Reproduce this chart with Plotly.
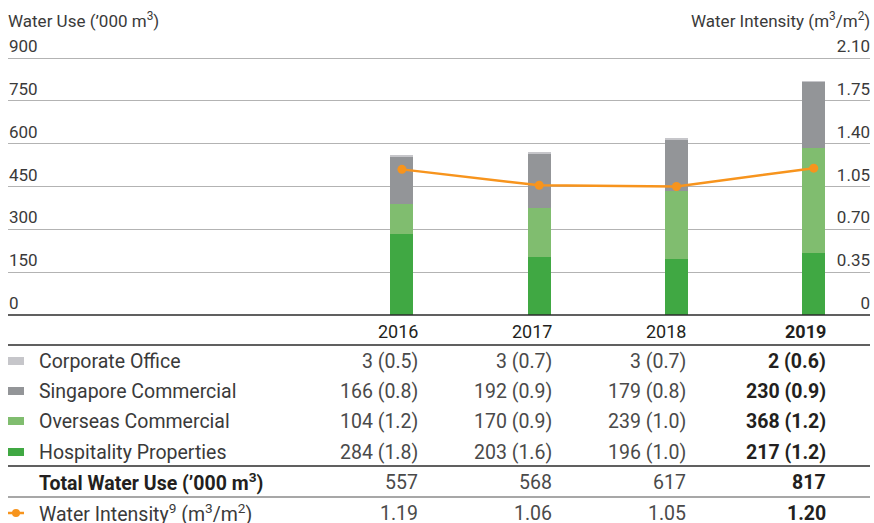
import plotly.graph_objects as go

years = ["2016", "2017", "2018", "2019"]
corporate = [3, 3, 3, 2]
singapore = [166, 192, 179, 230]
overseas = [104, 170, 239, 368]
hospitality = [284, 203, 196, 217]
corporate_int = [0.5, 0.7, 0.7, 0.6]
singapore_int = [0.8, 0.9, 0.8, 0.9]
overseas_int = [1.2, 0.9, 1.0, 1.2]
hospitality_int = [1.8, 1.6, 1.0, 1.2]
totals = [557, 568, 617, 817]
intensity = [1.19, 1.06, 1.05, 1.20]
left_ticks = [0, 150, 300, 450, 600, 750, 900]
right_ticks = [0, 0.35, 0.70, 1.05, 1.40, 1.75, 2.10]

colors = {"Corporate Office": "#c6c6ca", "Singapore Commercial": "#939598",
          "Overseas Commercial": "#80bd6f", "Hospitality Properties": "#40a843"}
orange = "#f7941d"

W, H = 874, 523
FONT = "Roboto"
TXT = "#3a3a3a"
VAL = "#4a4a4a"
DARK = "#231f20"
TFS = 19.5


def px(x):
    return x / W


def py(y):
    return 1 - y / H


fig = go.Figure()
for name, vals in [("Hospitality Properties", hospitality), ("Overseas Commercial", overseas),
                   ("Singapore Commercial", singapore), ("Corporate Office", corporate)]:
    fig.add_trace(go.Bar(x=years, y=vals, name=name, marker=dict(color=colors[name], line=dict(width=0)),
                         width=0.168, showlegend=False))
fig.add_trace(go.Scatter(x=years, y=intensity, yaxis="y2", mode="lines+markers",
                         line=dict(color=orange, width=2.5), marker=dict(color=orange, size=9),
                         showlegend=False))

# axis geometry: 0 at y=315, 900 at y=58; range extended so the top labels fit inside
base_y, top_y = 315, 58
L_MAX, R_MAX = 990, 2.31
ppu = (base_y - top_y) / 900
dom_top = base_y - L_MAX * ppu

x0 = -2.87
x1 = 3.41
fig.update_layout(
    width=W, height=H, margin=dict(l=0, r=0, t=0, b=0), autosize=False,
    paper_bgcolor="white", plot_bgcolor="white", barmode="stack",
    font=dict(family=FONT, size=17, color=TXT),
    xaxis=dict(domain=[px(8), px(870)], range=[x0, x1], type="category",
               showticklabels=False, showgrid=False, zeroline=False, showline=False, ticks=""),
    yaxis=dict(domain=[py(base_y), py(dom_top)], range=[0, L_MAX], tickvals=left_ticks,
               ticktext=[str(v) for v in left_ticks], ticklabelposition="inside top",
               ticklabelstandoff=-2,
               showgrid=True, gridcolor="#b3b3b3", gridwidth=1.2, zeroline=False, showline=False,
               tickfont=dict(size=17, color=TXT)),
    yaxis2=dict(domain=[py(base_y), py(dom_top)], range=[0, R_MAX], overlaying="y", side="right",
                anchor="x", tickvals=right_ticks, ticktext=[f"{v:.2f}" if v else "0" for v in right_ticks],
                ticklabelposition="inside top", ticklabelstandoff=-3,
                showgrid=False, zeroline=False, showline=False,
                tickfont=dict(size=17, color=TXT)),
)

shapes = []
annos = []


def hline(y, color, width=1.5):
    shapes.append(dict(type="line", xref="paper", yref="paper", x0=px(8), x1=px(870),
                       y0=py(y), y1=py(y), line=dict(color=color, width=width)))


hline(315, "#2b2b2b", 1.5)
hline(345, "#2b2b2b", 1.5)
hline(466, "#2b2b2b", 1.5)
hline(497, "#8a8a8a", 1.5)

annos.append(dict(text="Water Use (\u2019000 m<sup>3</sup>)", x=px(6), y=py(20), xref="paper", yref="paper",
                  xanchor="left", yanchor="middle", showarrow=False, font=dict(size=17, color=TXT)))
annos.append(dict(text="Water Intensity (m<sup>3</sup>/m<sup>2</sup>)", x=px(872), y=py(20), xref="paper",
                  yref="paper", xanchor="right", yanchor="middle", showarrow=False,
                  font=dict(size=17, color=TXT)))

col_right = [420, 554, 688, 828]
for i, yr in enumerate(years):
    t = f"<b>{yr}</b>" if i == len(years) - 1 else yr
    annos.append(dict(text=t, x=px(col_right[i]), y=py(331), xref="paper", yref="paper", xanchor="right",
                      yanchor="middle", showarrow=False, font=dict(size=18, color=DARK)))

rows = [("Corporate Office", corporate, corporate_int, 361),
        ("Singapore Commercial", singapore, singapore_int, 391),
        ("Overseas Commercial", overseas, overseas_int, 421),
        ("Hospitality Properties", hospitality, hospitality_int, 452)]
for name, vals, ints, y in rows:
    shapes.append(dict(type="rect", xref="paper", yref="paper", x0=px(8), x1=px(24),
                       y0=py(y + 4), y1=py(y - 4), line=dict(width=0), fillcolor=colors[name]))
    annos.append(dict(text=name, x=px(37), y=py(y), xref="paper", yref="paper", xanchor="left",
                      yanchor="middle", showarrow=False, font=dict(size=TFS, color=TXT)))
    for i in range(len(years)):
        t = f"{vals[i]} ({ints[i]:.1f})"
        if i == len(years) - 1:
            t = f"<b>{t}</b>"
            c = DARK
        else:
            c = VAL
        annos.append(dict(text=t, x=px(col_right[i]), y=py(y), xref="paper", yref="paper", xanchor="right",
                          yanchor="middle", showarrow=False, font=dict(size=TFS, color=c)))

annos.append(dict(text="<b>Total Water Use (\u2019000 m<sup>3</sup>)</b>", x=px(37), y=py(482), xref="paper",
                  yref="paper", xanchor="left", yanchor="middle", showarrow=False,
                  font=dict(size=TFS, color=DARK)))
for i in range(len(years)):
    t = f"<b>{totals[i]}</b>" if i == len(years) - 1 else str(totals[i])
    c = DARK if i == len(years) - 1 else VAL
    annos.append(dict(text=t, x=px(col_right[i]), y=py(482), xref="paper", yref="paper", xanchor="right",
                      yanchor="middle", showarrow=False, font=dict(size=TFS, color=c)))

# orange legend marker: short line with a dot
shapes.append(dict(type="line", xref="paper", yref="paper", x0=px(8), x1=px(24), y0=py(513), y1=py(513),
                   line=dict(color=orange, width=2.5)))
shapes.append(dict(type="circle", xref="paper", yref="paper", x0=px(12), x1=px(20), y0=py(517), y1=py(509),
                   line=dict(width=0), fillcolor=orange))
annos.append(dict(text="Water Intensity<sup>9</sup> (m<sup>3</sup>/m<sup>2</sup>)", x=px(37), y=py(513),
                  xref="paper", yref="paper", xanchor="left", yanchor="middle", showarrow=False,
                  font=dict(size=TFS, color=TXT)))
for i in range(len(years)):
    t = f"{intensity[i]:.2f}"
    if i == len(years) - 1:
        t = f"<b>{t}</b>"
        c = DARK
    else:
        c = VAL
    annos.append(dict(text=t, x=px(col_right[i]), y=py(513), xref="paper", yref="paper", xanchor="right",
                      yanchor="middle", showarrow=False, font=dict(size=TFS, color=c)))

fig.update_layout(shapes=shapes, annotations=annos)
fig.write_html("out.html", config={"displayModeBar": False},
               post_script="document.body.style.margin='0';document.body.style.overflow='hidden';")
